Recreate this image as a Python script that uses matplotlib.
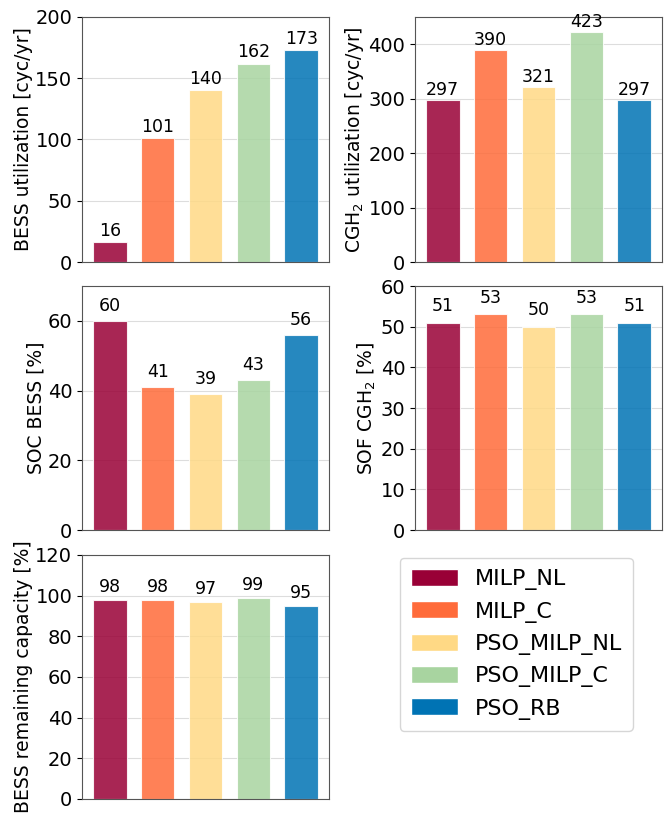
import matplotlib
matplotlib.use("Agg")
import matplotlib.pyplot as plt
from matplotlib.patches import Patch

methods = ["MILP_NL", "MILP_C", "PSO_MILP_NL", "PSO_MILP_C", "PSO_RB"]
colors = ["#990036", "#ff6b3a", "#ffd985", "#a8d4a0", "#0073b4"]

bess_util = [16, 101, 140, 162, 173]
cgh2_util = [297, 390, 321, 423, 297]
soc_bess = [60, 41, 39, 43, 56]
sof_cgh2 = [51, 53, 50, 53, 51]
bess_cap = [98, 98, 97, 99, 95]

panels = [
    (bess_util, "BESS utilization [cyc/yr]", 200, 50),
    (cgh2_util, "CGH$_2$ utilization [cyc/yr]", 450, 100),
    (soc_bess, "SOC BESS [%]", 70, 20),
    (sof_cgh2, "SOF CGH$_2$ [%]", 60, 10),
    (bess_cap, "BESS remaining capacity [%]", 120, 20),
]

plt.rcParams["font.size"] = 14
fig = plt.figure(figsize=(6.69, 8.16), dpi=100)
# axes boxes in pixels (left, top, right, bottom)
boxes = [
    (82, 17, 329, 262), (415, 17, 662, 262),
    (82, 286, 329, 530), (415, 286, 662, 530),
    (82, 555, 329, 799),
]
W, H = 669, 816
for (vals, lab, top, step), (x0, y0, x1, y1) in zip(panels, boxes):
    ax = fig.add_axes([x0 / W, 1 - y1 / H, (x1 - x0) / W, (y1 - y0) / H])
    ax.set_axisbelow(True)
    ax.grid(axis="y", color="#dddddd", linewidth=0.8)
    bars = ax.bar(range(5), vals, color=colors, alpha=0.85, width=0.7,
                  edgecolor="white", linewidth=0.8)
    for b, v in zip(bars, vals):
        ax.text(b.get_x() + b.get_width() / 2, v + 1.8, str(v),
                ha="center", va="bottom", fontsize=12.5)
    ax.set_ylim(0, top)
    ax.set_xlim(-0.58, 4.58)
    ax.set_yticks(range(0, top + 1, step))
    ax.set_xticks([])
    ax.set_ylabel(lab, fontsize=13.5, labelpad=1.5)
    for s in ax.spines.values():
        s.set_color("#555555")

handles = [Patch(facecolor=c, edgecolor="white", label=m) for m, c in zip(methods, colors)]
fig.legend(handles=handles, loc="upper left", bbox_to_anchor=(400 / W, 1 - 558 / H),
           borderaxespad=0, fontsize=16, handlelength=2.1, handleheight=0.8,
           handletextpad=0.75, labelspacing=0.5, borderpad=0.5, frameon=True,
           edgecolor="#cccccc")

fig.savefig("out.png", dpi=100)
